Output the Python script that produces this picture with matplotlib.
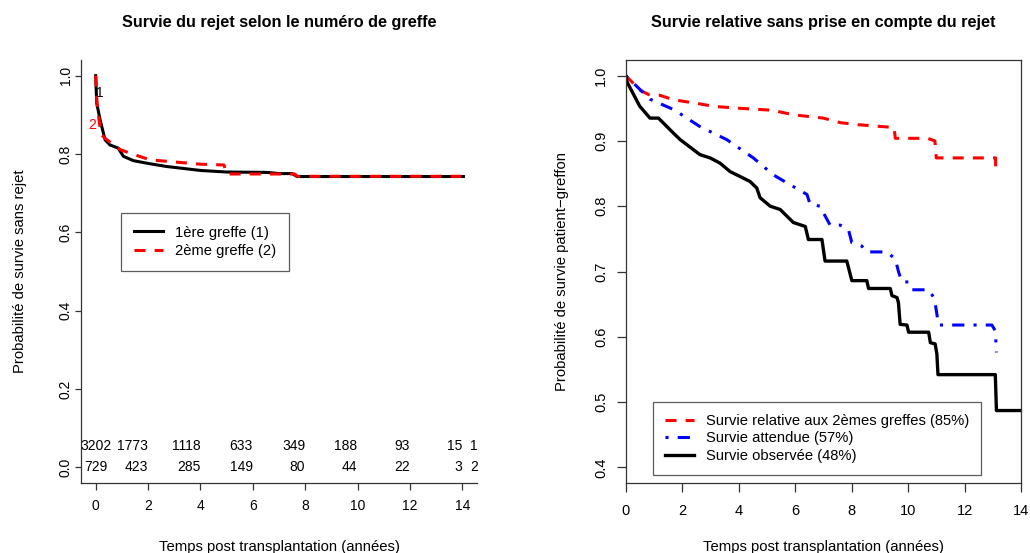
import matplotlib
matplotlib.use("Agg")
import matplotlib.pyplot as plt

plt.rcParams['font.family'] = ['Liberation Sans', 'DejaVu Sans']

# --- panneau gauche : survie sans rejet selon le numero de greffe ---
t_g1 = [0, 0.04, 0.17, 0.36, 0.55, 0.86, 1.06, 1.44, 2.08, 2.72, 4.0, 5.0, 6.55, 7.0, 7.5, 7.69, 14.04]
s_g1 = [1.0, 0.93, 0.887, 0.836, 0.823, 0.815, 0.794, 0.783, 0.775, 0.768, 0.758, 0.754, 0.753, 0.750, 0.750, 0.7425, 0.7425]
t_g2 = [0, 0.05, 0.2, 0.43, 0.94, 1.45, 2.08, 4.0, 4.9, 5.0, 7.6, 7.7, 14.04]
s_g2 = [1.0, 0.93, 0.85, 0.836, 0.811, 0.799, 0.785, 0.774, 0.772, 0.749, 0.749, 0.743, 0.743]

risk_times = [0, 2, 4, 6, 8, 10, 12, 14, 14.6]
risk_g1 = ['3202', '1773', '1118', '633', '349', '188', '93', '15', '1']
risk_g2 = ['729', '423', '285', '149', '80', '44', '22', '3', '2']

# --- panneau droit : survie relative ---
t_obs = [0, 0.05, 0.5, 0.86, 1.16, 1.69, 1.93, 2.63, 2.99, 3.34, 3.7, 4.4, 4.64, 4.76, 5.12, 5.47,
         5.94, 6.36, 6.47, 6.95, 7.06, 7.83, 8.01, 8.54, 8.60, 9.37, 9.43, 9.61, 9.66, 9.72, 9.96,
         10.02, 10.73, 10.79, 10.96, 11.02, 11.06, 13.09, 13.13, 14.0]
s_obs = [1.0, 0.99, 0.953, 0.935, 0.935, 0.912, 0.902, 0.879, 0.874, 0.866, 0.853, 0.838, 0.828, 0.813,
         0.80, 0.795, 0.775, 0.769, 0.749, 0.749, 0.716, 0.716, 0.686, 0.686, 0.674, 0.674, 0.663,
         0.660, 0.652, 0.619, 0.618, 0.607, 0.607, 0.591, 0.589, 0.574, 0.542, 0.542, 0.487, 0.487]

t_att = [0, 0.86, 1.7, 2.63, 3.58, 4.52, 5.23, 5.7, 6.42, 6.53, 6.89, 7.0, 7.24, 7.6, 7.89, 8.01, 8.36,
         8.54, 9.25, 9.55, 9.66, 9.78, 10.02, 10.14, 10.73, 10.93, 11.02, 11.08, 12.97, 13.09, 13.13]
s_att = [1.0, 0.964, 0.948, 0.922, 0.902, 0.874, 0.848, 0.836, 0.818, 0.803, 0.80, 0.79, 0.771, 0.771,
         0.764, 0.744, 0.739, 0.730, 0.730, 0.719, 0.70, 0.684, 0.684, 0.672, 0.672, 0.659, 0.635,
         0.618, 0.618, 0.609, 0.576]

t_rel = [0, 0.5, 0.86, 1.2, 1.7, 2.6, 3.1, 4.05, 5.2, 5.94, 7.0, 7.6, 8.2, 9.37, 9.5, 9.55, 10.7, 10.95,
         11.0, 13.1, 13.1]
s_rel = [1.0, 0.978, 0.970, 0.970, 0.963, 0.957, 0.953, 0.950, 0.947, 0.940, 0.935, 0.928, 0.925,
         0.921, 0.921, 0.904, 0.904, 0.90, 0.874, 0.874, 0.859]

W, H = 1030, 553
fig = plt.figure(figsize=(W / 100, H / 100), dpi=100)


def px_axes(x0, x1, y0, y1):
    return fig.add_axes([x0 / W, 1 - y1 / H, (x1 - x0) / W, (y1 - y0) / H])


dash = (0, (3.6, 3.0))
dotdash = (0, (1, 3, 4, 3))
spine_col = '#333333'

# ---------- gauche ----------
ax1 = px_axes(81, 477, 60, 483)
ax1.plot(t_g1, s_g1, color='black', lw=2.2, label='1ère greffe (1)')
ax1.plot(t_g2, s_g2, color='red', lw=2.2, ls=dash, label='2ème greffe (2)')
ax1.text(0.17, 0.956, '1', color='black', fontsize=10, ha='center', va='center')
ax1.text(-0.15, 0.875, '2', color='red', fontsize=10, ha='center', va='center')
for i, (tt, a, b) in enumerate(zip(risk_times, risk_g1, risk_g2)):
    ha = 'center' if i == 0 else 'right'
    ax1.text(tt, 0.055, a, fontsize=10, ha=ha, va='center', clip_on=False)
    ax1.text(tt, 0.0, b, fontsize=10, ha=ha, va='center', clip_on=False)
ax1.set_xlim(-0.56, 14.56)
ax1.set_ylim(-0.04, 1.04)
ax1.set_xticks(range(0, 15, 2))
ax1.set_yticks([0, 0.2, 0.4, 0.6, 0.8, 1.0])
ax1.set_yticklabels(['0.0', '0.2', '0.4', '0.6', '0.8', '1.0'])
ax1.spines['top'].set_visible(False)
ax1.spines['right'].set_visible(False)
ax1.tick_params(axis='x', length=5, width=0.9, pad=6.5, labelsize=10, color=spine_col)
ax1.tick_params(axis='y', length=4, width=0.9, pad=2, labelsize=10, labelrotation=90, color=spine_col)
for lab in ax1.get_yticklabels():
    lab.set_va('center')
ax1.set_title('Survie du rejet selon le numéro de greffe', fontweight='bold', fontsize=11.7,
              y=1.0875, va='center', pad=0)
ax1.set_xlabel('Temps post transplantation (années)', fontsize=10.75, va='center')
ax1.xaxis.set_label_coords(0.5, -0.151)
ax1.set_ylabel('Probabilité de survie sans rejet', fontsize=10.75, va='center')
ax1.yaxis.set_label_coords(-0.155, 0.5)
leg1 = ax1.legend(loc='upper left', bbox_to_anchor=(0.101, 0.638), borderaxespad=0,
                  fancybox=False, edgecolor=spine_col, fontsize=10.6, handlelength=2.0,
                  handletextpad=0.85, labelspacing=0.3, borderpad=0.85)
leg1.get_frame().set_linewidth(0.9)

# ---------- droite ----------
ax2 = px_axes(625.7, 1021, 60, 483)
ax2.plot(t_rel, s_rel, color='red', lw=2.2, ls=dash, label='Survie relative aux 2èmes greffes (85%)')
ax2.plot(t_att, s_att, color='blue', lw=2.2, ls=dotdash, label='Survie attendue (57%)')
ax2.plot(t_obs, s_obs, color='black', lw=2.4, label='Survie observée (48%)')
ax2.set_xlim(0, 14)
ax2.set_ylim(0.376, 1.024)
ax2.set_xticks(range(0, 15, 2))
ax2.set_yticks([0.4, 0.5, 0.6, 0.7, 0.8, 0.9, 1.0])
ax2.set_yticklabels(['0.4', '0.5', '0.6', '0.7', '0.8', '0.9', '1.0'])
for sp in ax2.spines.values():
    sp.set_color(spine_col)
    sp.set_linewidth(0.9)
ax2.tick_params(axis='x', length=6.5, width=0.9, pad=8.5, labelsize=10.5, color=spine_col)
ax2.tick_params(axis='y', length=6.5, width=0.9, pad=6, labelsize=10.5, labelrotation=90, color=spine_col)
for lab in ax2.get_yticklabels():
    lab.set_va('center')
ax2.set_title('Survie relative sans prise en compte du rejet', fontweight='bold', fontsize=11.7,
              y=1.0875, va='center', pad=0)
ax2.set_xlabel('Temps post transplantation (années)', fontsize=10.75, va='center')
ax2.xaxis.set_label_coords(0.5, -0.151)
ax2.set_ylabel('Probabilité de survie patient\u2212greffon', fontsize=10.75, va='center')
ax2.yaxis.set_label_coords(-0.161, 0.5)
leg2 = ax2.legend(loc='upper left', bbox_to_anchor=(0.069, 0.1915), borderaxespad=0,
                  fancybox=False, edgecolor=spine_col, fontsize=10.6, handlelength=2.0,
                  handletextpad=0.8, labelspacing=0.25, borderpad=0.8)
leg2.get_frame().set_linewidth(0.9)

for sp in ax1.spines.values():
    sp.set_color(spine_col)
    sp.set_linewidth(0.9)

fig.savefig('out.png', dpi=100)
